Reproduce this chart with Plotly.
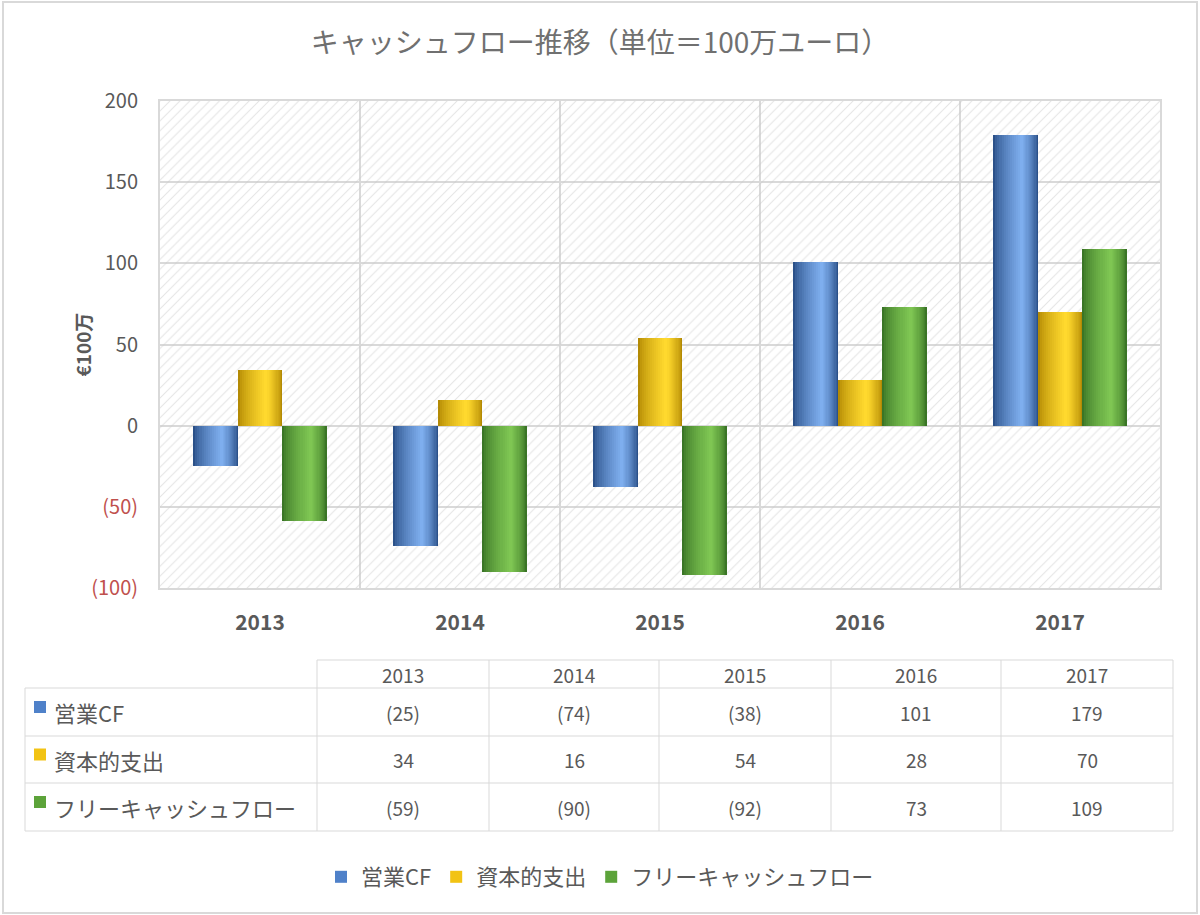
import plotly.graph_objects as go

# ---------------- data ----------------
YEARS = ["2013", "2014", "2015", "2016", "2017"]
SERIES_NAMES = ["営業CF", "資本的支出", "フリーキャッシュフロー"]
OPERATING_CF = [-25, -74, -38, 101, 179]
CAPEX = [34, 16, 54, 28, 70]
FREE_CF = [-59, -90, -92, 73, 109]
Y_TICKS = [-100, -50, 0, 50, 100, 150, 200]
Y_MIN, Y_MAX = -100, 200

TITLE = "キャッシュフロー推移（単位＝100万ユーロ）"
Y_TITLE = "€100万"

# ---------------- style ----------------
W, H = 1200, 915
FONT = "Noto Sans CJK JP, Noto Sans, sans-serif"
GRAY_TXT = "#595959"
GRID = "#d9d9d9"
NEG_RED = "#c0504d"

# (edge colour, highlight colour, legend colour)
SERIES_COLORS = [
    ("#2b5189", "#7eaeee", "#4f81c9"),
    ("#b38a04", "#ffd92e", "#f2c314"),
    ("#3a7526", "#7fc653", "#5ca33a"),
]
BAR_W = 0.222
CENTERS = [-0.222, 0.0, 0.222]
N_STEPS = 14
PEAK = 0.64

# data-table geometry (pixels)
TABLE_X = [25, 317, 489, 659, 831, 1001, 1173]
TABLE_Y = [660, 688, 736, 783, 831]


def fmt(v):
    return f"({abs(v)})" if v < 0 else f"{v}"


def mix(c1, c2, t):
    a = [int(c1[i:i + 2], 16) for i in (1, 3, 5)]
    b = [int(c2[i:i + 2], 16) for i in (1, 3, 5)]
    return "#" + "".join(f"{round(a[i] + (b[i] - a[i]) * t):02x}" for i in range(3))


def py(p):  # pixel y -> paper
    return 1 - p / H


def px_(p):  # pixel x -> paper
    return p / W


fig = go.Figure()

# hatched plot background
fig.add_trace(go.Bar(
    x=YEARS, y=[Y_MAX - Y_MIN] * len(YEARS), base=Y_MIN,
    width=1, offset=-0.5,
    marker=dict(color="rgba(0,0,0,0)", line=dict(width=0),
                pattern=dict(shape="/", fgcolor="#c9c9c9", bgcolor="rgba(0,0,0,0)",
                             size=7, solidity=0.15)),
    showlegend=False, hoverinfo="skip",
))

all_values = [OPERATING_CF, CAPEX, FREE_CF]
for s, (name, vals) in enumerate(zip(SERIES_NAMES, all_values)):
    edge, hi, leg = SERIES_COLORS[s]
    left = CENTERS[s] - BAR_W / 2
    # legend entry (drawn first, hidden beneath the shaded layers)
    fig.add_trace(go.Bar(
        x=YEARS, y=vals, name=name, width=BAR_W * 0.5, offset=CENTERS[s] - BAR_W * 0.25,
        marker=dict(color=leg, line=dict(width=0)),
        showlegend=True, legendgroup=name, hoverinfo="skip",
    ))
    for k in range(N_STEPS):
        t = k / N_STEPS
        l = left + BAR_W * PEAK * t
        r = left + BAR_W - BAR_W * (1 - PEAK) * t
        color = mix(edge, hi, (k / (N_STEPS - 1)) ** 0.7)
        fig.add_trace(go.Bar(
            x=YEARS, y=vals, name=name,
            width=r - l, offset=l,
            marker=dict(color=color, line=dict(width=0)),
            showlegend=False, legendgroup=name,
            hoverinfo="x+y+name" if k == 0 else "skip",
        ))

# ---------------- data table (lines + texts) ----------------
shapes = []
annotations = []
line_style = dict(color=GRID, width=1)
for i, yy in enumerate(TABLE_Y):
    x0 = TABLE_X[1] if i == 0 else TABLE_X[0]
    shapes.append(dict(type="line", xref="paper", yref="paper",
                       x0=px_(x0), x1=px_(TABLE_X[-1]), y0=py(yy), y1=py(yy),
                       line=line_style))
for j, xx in enumerate(TABLE_X):
    y0 = TABLE_Y[1] if j == 0 else TABLE_Y[0]
    shapes.append(dict(type="line", xref="paper", yref="paper",
                       x0=px_(xx), x1=px_(xx), y0=py(y0), y1=py(TABLE_Y[-1]),
                       line=line_style))
for j, year in enumerate(YEARS):
    cx = (TABLE_X[j + 1] + TABLE_X[j + 2]) / 2
    cy = (TABLE_Y[0] + TABLE_Y[1]) / 2
    annotations.append(dict(text=year, xref="paper", yref="paper", x=px_(cx), y=py(cy),
                            showarrow=False, xanchor="center", yanchor="middle",
                            font=dict(family=FONT, size=19, color=GRAY_TXT)))
for i, (name, vals) in enumerate(zip(SERIES_NAMES, all_values)):
    cy = (TABLE_Y[i + 1] + TABLE_Y[i + 2]) / 2
    shapes.append(dict(type="rect", xref="paper", yref="paper",
                       x0=px_(34), x1=px_(46), y0=py(cy + 1), y1=py(cy - 11),
                       fillcolor=SERIES_COLORS[i][2], line=dict(width=0)))
    annotations.append(dict(text=name, xref="paper", yref="paper", x=px_(52), y=py(cy),
                            showarrow=False, xanchor="left", yanchor="middle",
                            font=dict(family=FONT, size=22, color=GRAY_TXT)))
    for j, v in enumerate(vals):
        cx = (TABLE_X[j + 1] + TABLE_X[j + 2]) / 2
        annotations.append(dict(text=fmt(v), xref="paper", yref="paper", x=px_(cx), y=py(cy),
                                showarrow=False, xanchor="center", yanchor="middle",
                                font=dict(family=FONT, size=19, color=GRAY_TXT)))

annotations.append(dict(text=f"<b>{Y_TITLE}</b>", xref="paper", yref="paper",
                        x=px_(66), y=py(345), textangle=-90, showarrow=False,
                        font=dict(family=FONT, size=19, color=GRAY_TXT)))
shapes.append(dict(type="rect", xref="paper", yref="paper",
                   x0=px_(3), x1=px_(1197), y0=py(913), y1=py(2),
                   line=dict(color=GRID, width=2), layer="below"))

ticktext = [
    (f"<span style='color:{NEG_RED}'>{fmt(v)}</span>" if v < 0 else fmt(v))
    for v in Y_TICKS
]

fig.update_layout(
    width=W, height=H,
    margin=dict(l=0, r=0, t=0, b=0, pad=0, autoexpand=False),
    paper_bgcolor="white", plot_bgcolor="white",
    barmode="overlay",
    bargap=0,
    font=dict(family=FONT, color=GRAY_TXT),
    title=dict(text=TITLE, x=0.5, xanchor="center", y=py(43), yanchor="middle",
               font=dict(family=FONT, size=28, color="#707070")),
    xaxis=dict(domain=[px_(160), px_(1160)], type="category", range=[-0.5, 4.5],
               automargin=False,
               tickson="boundaries", showgrid=True, gridcolor=GRID, gridwidth=2,
               showline=True, mirror=True, linecolor=GRID, linewidth=2,
               ticks="", ticklabelstandoff=15,
               tickfont=dict(family=FONT, size=21, color=GRAY_TXT, weight="bold")),
    yaxis=dict(domain=[py(588), py(101)], range=[Y_MIN, Y_MAX],
               automargin=False,
               tickvals=Y_TICKS, ticktext=ticktext,
               showgrid=True, gridcolor=GRID, gridwidth=2,
               zeroline=True, zerolinecolor=GRID, zerolinewidth=2,
               showline=True, mirror=True, linecolor=GRID, linewidth=2,
               ticks="", ticklabelstandoff=16,
               tickfont=dict(family=FONT, size=20, color=GRAY_TXT)),
    legend=dict(orientation="h", x=0.5, xanchor="center", y=py(877), yanchor="middle",
                font=dict(family=FONT, size=22, color=GRAY_TXT),
                bgcolor="rgba(0,0,0,0)", traceorder="normal"),
    showlegend=True,
    annotations=annotations,
    shapes=shapes,
)

fig.write_html("out.html")
